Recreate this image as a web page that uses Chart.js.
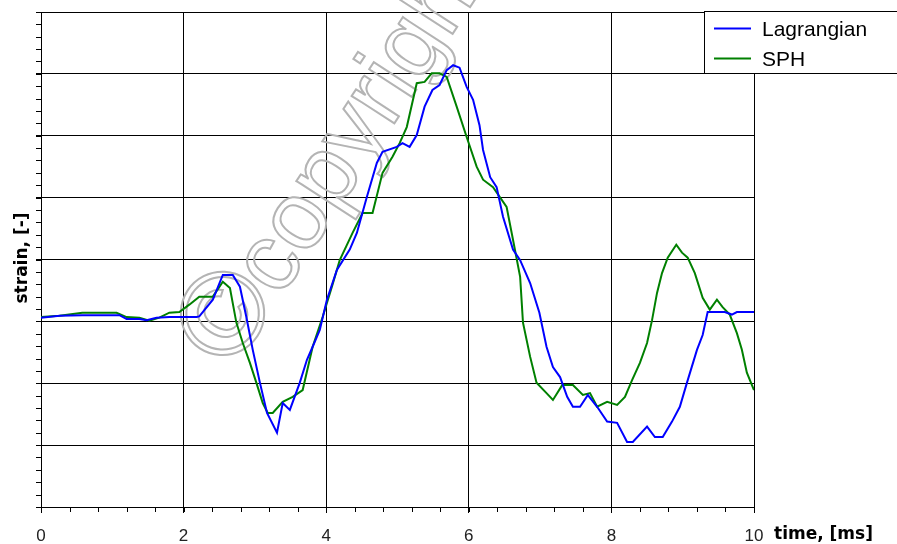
<!DOCTYPE html>
<html>
<head>
<meta charset="utf-8">
<script src="https://cdn.jsdelivr.net/npm/chart.js@4/dist/chart.umd.min.js"></script>
<style>
html,body{margin:0;padding:0;background:#fff;}
#wrap{width:897px;height:544px;position:relative;}
</style>
</head>
<body>
<div id="wrap"><canvas id="c" width="897" height="544"></canvas></div>
<script>
// ---- data ----
const lagT = [0,0.26,0.58,1.10,1.20,1.38,1.48,1.62,1.80,2.18,2.22,2.41,2.55,2.69,2.79,2.88,2.97,3.07,3.17,3.31,3.39,3.49,3.63,3.73,3.81,3.91,4.01,4.15,4.33,4.43,4.57,4.71,4.79,4.99,5.07,5.17,5.27,5.38,5.49,5.59,5.69,5.78,5.87,5.97,6.06,6.15,6.20,6.30,6.39,6.48,6.62,6.72,6.86,6.99,7.09,7.18,7.28,7.38,7.46,7.56,7.67,7.80,7.94,8.08,8.22,8.30,8.50,8.61,8.72,8.85,8.96,9.06,9.20,9.28,9.35,9.45,9.59,9.69,9.76,10.0];
const lagStrain = [0.06,0.09,0.10,0.10,0.04,0.04,0.02,0.06,0.07,0.07,0.08,0.35,0.75,0.75,0.56,0.07,-0.46,-0.99,-1.48,-1.80,-1.32,-1.43,-0.99,-0.62,-0.41,-0.14,0.35,0.83,1.16,1.43,2.01,2.56,2.74,2.82,2.88,2.82,3.01,3.47,3.74,3.82,4.06,4.14,4.10,3.79,3.58,3.17,2.77,2.33,2.17,1.69,1.16,0.99,0.62,0.14,-0.41,-0.74,-0.90,-1.22,-1.38,-1.38,-1.19,-1.38,-1.62,-1.64,-1.95,-1.95,-1.70,-1.87,-1.87,-1.62,-1.38,-0.99,-0.46,-0.22,0.15,0.15,0.15,0.11,0.15,0.15];
const sphT = [0,0.26,0.58,1.06,1.20,1.38,1.52,1.66,1.80,1.94,2.08,2.22,2.41,2.55,2.65,2.74,2.83,2.93,3.02,3.11,3.18,3.25,3.39,3.53,3.67,3.81,3.95,4.08,4.19,4.37,4.51,4.65,4.79,4.93,5.03,5.13,5.27,5.38,5.48,5.59,5.69,5.83,5.97,6.11,6.20,6.34,6.53,6.62,6.72,6.76,6.86,6.95,7.09,7.18,7.31,7.46,7.60,7.70,7.80,7.94,8.08,8.19,8.29,8.40,8.50,8.57,8.64,8.71,8.79,8.91,8.99,9.07,9.17,9.28,9.38,9.48,9.56,9.66,9.76,9.83,9.90,10.0];
const sphStrain = [0.07,0.09,0.14,0.14,0.07,0.06,0.01,0.06,0.14,0.15,0.27,0.40,0.40,0.64,0.54,-0.02,-0.35,-0.67,-0.99,-1.32,-1.48,-1.48,-1.30,-1.22,-1.11,-0.41,0.07,0.56,0.99,1.43,1.75,1.75,2.40,2.66,2.88,3.14,3.85,3.87,4.01,4.01,3.95,3.47,2.98,2.50,2.29,2.17,1.85,1.32,0.72,-0.02,-0.57,-0.99,-1.16,-1.27,-1.03,-1.03,-1.19,-1.16,-1.38,-1.30,-1.35,-1.22,-0.95,-0.67,-0.35,0.02,0.46,0.78,1.03,1.24,1.11,1.03,0.78,0.38,0.19,0.35,0.23,0.11,-0.19,-0.46,-0.83,-1.11];
const xTickLabels = ["0","2","4","6","8","10"];
const seriesNames = ["Lagrangian","SPH"];
const xTitle = "time, [ms]";
const yTitle = "strain, [-]";
const watermarkSymbol = "\u00A9";
const watermarkWord = "copyright";

const pts = (xs, ys) => xs.map((x, i) => ({x: x, y: ys[i]}));

const decor = {
  id: 'decor',
  beforeDatasetsDraw(chart) {
    const ctx = chart.ctx;
    ctx.save();
    ctx.translate(233, 372);
    ctx.rotate(-57 * Math.PI / 180);
    ctx.strokeStyle = '#b4b4b4';
    ctx.lineWidth = 2;
    ctx.font = '118px "Liberation Sans"';
    ctx.strokeText(watermarkSymbol, 0, 0);
    const w = ctx.measureText(watermarkSymbol).width;
    ctx.font = '96px "Liberation Sans"';
    ctx.strokeText(watermarkWord, w, 0);
    ctx.restore();
  },
  afterDraw(chart) {
    const ctx = chart.ctx;
    const xs = chart.scales.x, ys = chart.scales.y;
    const a = chart.chartArea;
    ctx.save();
    ctx.strokeStyle = '#000';
    ctx.lineWidth = 1;
    ctx.beginPath();
    for (let v = 0; v <= 10.001; v += 0.4) {
      const px = Math.round(xs.getPixelForValue(v)) + 0.5;
      ctx.moveTo(px, a.bottom); ctx.lineTo(px, a.bottom + 5);
    }
    for (let v = -3; v <= 5.001; v += 0.2) {
      const py = Math.round(ys.getPixelForValue(v)) + 0.5;
      ctx.moveTo(a.left - 5, py); ctx.lineTo(a.left, py);
    }
    ctx.stroke();
    // legend
    ctx.fillStyle = '#fff';
    ctx.fillRect(704.5, 11.5, 200, 62);
    ctx.strokeRect(704.5, 11.5, 200, 62);
    const colors = ['#0000ff', '#008000'];
    const ly = [28.5, 58.5];
    ctx.font = '21px "Liberation Sans"';
    ctx.textBaseline = 'alphabetic';
    ctx.textAlign = 'left';
    for (let i = 0; i < 2; i++) {
      ctx.strokeStyle = colors[i];
      ctx.lineWidth = 2;
      ctx.beginPath(); ctx.moveTo(714, ly[i]); ctx.lineTo(751, ly[i]); ctx.stroke();
      ctx.fillStyle = '#000';
      ctx.fillText(seriesNames[i], 762, ly[i] + 7);
    }
    // axis titles
    ctx.font = 'bold 17px "DejaVu Sans"';
    ctx.fillText(xTitle, 774, 539);
    ctx.save();
    ctx.translate(27, 258);
    ctx.rotate(-Math.PI / 2);
    ctx.textAlign = 'center';
    ctx.fillText(yTitle, 0, 0);
    ctx.restore();
    ctx.restore();
  }
};

new Chart(document.getElementById('c'), {
  type: 'scatter',
  data: {
    datasets: [
      {label: seriesNames[0], data: pts(lagT, lagStrain), showLine: true, borderColor: '#0000ff', borderWidth: 2, pointRadius: 0, tension: 0, fill: false},
      {label: seriesNames[1], data: pts(sphT, sphStrain), showLine: true, borderColor: '#008000', borderWidth: 2, pointRadius: 0, tension: 0, fill: false}
    ]
  },
  options: {
    responsive: false,
    animation: false,
    devicePixelRatio: 1,
    layout: {padding: {top: 12, right: 143, left: 0, bottom: 0}},
    plugins: {legend: {display: false}, tooltip: {enabled: false}},
    scales: {
      x: {
        type: 'linear', min: 0, max: 10,
        afterBuildTicks: s => { s.ticks = xTickLabels.map(l => ({value: Number(l)})); },
        ticks: {color: '#222', font: {family: 'Liberation Sans', size: 17}, padding: 13, maxRotation: 0, autoSkip: false,
                callback: v => String(v)},
        grid: {color: '#000', lineWidth: 1, tickLength: 6, drawTicks: true},
        border: {display: true, color: '#000', width: 1},
        afterFit: s => { s.height = 37; }
      },
      y: {
        type: 'linear', min: -3, max: 5,
        ticks: {stepSize: 1, display: false},
        grid: {color: '#000', lineWidth: 1, tickLength: 5, drawTicks: true},
        border: {display: true, color: '#000', width: 1},
        afterFit: s => { s.width = 41; }
      }
    }
  },
  plugins: [decor]
});
</script>
</body>
</html>
